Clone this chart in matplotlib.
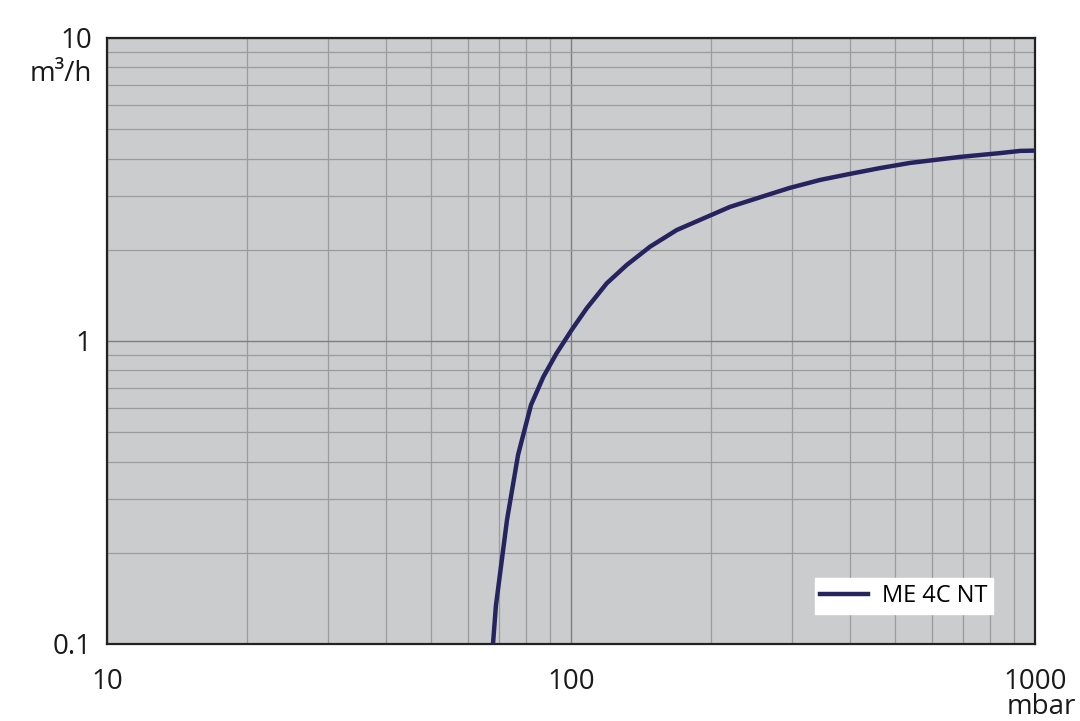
import numpy as np
import matplotlib.pyplot as plt
from matplotlib.ticker import LogLocator, NullFormatter

# --- DATA ---
pressure_mbar = [67.9, 68.9, 72.8, 76.9, 82.0, 87.2, 93.1, 100.3, 108.1, 119.4,
                 131.8, 148.0, 169.0, 189.7, 220.0, 255.5, 296.0, 344.0, 399.0,
                 463.0, 538.0, 689.0, 841.0, 929.0, 1000.0]
flow_m3h = [0.10, 0.134, 0.257, 0.421, 0.615, 0.762, 0.911, 1.087, 1.282, 1.55,
            1.781, 2.047, 2.324, 2.51, 2.77, 2.98, 3.20, 3.40, 3.56,
            3.72, 3.87, 4.05, 4.17, 4.24, 4.25]
series_name = "ME 4C NT"
x_ticks = [10, 100, 1000]
x_labels = ["10", "100", "1000"]
y_ticks = [0.1, 1, 10]
y_labels = ["0.1", "1", "10"]

plt.rcParams['font.family'] = ['Open Sans', 'DejaVu Sans']

# --- FIGURE ---
fig = plt.figure(figsize=(10.8, 7.21), dpi=100)
ax = fig.add_axes([0.0991, 0.1068, 0.9583 - 0.0991, 0.9473 - 0.1068])
ax.set_facecolor('#cbcccd')

ax.set_xscale('log')
ax.set_yscale('log')
ax.set_xlim(10, 1000)
ax.set_ylim(0.1, 10)

ax.plot(pressure_mbar, flow_m3h, color='#26245f', linewidth=3.2,
        solid_joinstyle='round', label=series_name, zorder=3)

# grid: darker decades, lighter sub-decades
ax.xaxis.set_minor_locator(LogLocator(base=10, subs=np.arange(2, 10)))
ax.yaxis.set_minor_locator(LogLocator(base=10, subs=np.arange(2, 10)))
ax.xaxis.set_minor_formatter(NullFormatter())
ax.yaxis.set_minor_formatter(NullFormatter())
ax.grid(True, which='major', color='#7d7e80', linewidth=1.0)
ax.grid(True, which='minor', color='#9a9b9d', linewidth=0.9)
ax.set_axisbelow(True)

ax.set_xticks(x_ticks)
ax.set_xticklabels(x_labels)
ax.set_yticks(y_ticks)
ax.set_yticklabels(y_labels)
ax.tick_params(which='both', length=0)
ax.tick_params(axis='x', pad=17, labelsize=20, labelcolor='#1a1a1a')
ax.tick_params(axis='y', pad=11, labelsize=20, labelcolor='#1a1a1a')

for side in ax.spines.values():
    side.set_color('#222222')
    side.set_linewidth(1.6)

# unit labels
ax.text(-0.0165, 0.94, "m³/h", transform=ax.transAxes, ha='right', va='center',
        fontsize=20, color='#1a1a1a')
ax.text(1.007, -0.115, "mbar", transform=ax.transAxes, ha='center', va='baseline',
        fontsize=20, color='#1a1a1a')

leg = ax.legend(loc='lower right', bbox_to_anchor=(0.955, 0.05), frameon=True,
                fancybox=False, fontsize=17, handlelength=2.0, handletextpad=0.6,
                borderpad=0.25, borderaxespad=0)
leg.get_frame().set_facecolor('white')
leg.get_frame().set_edgecolor('white')
leg.get_frame().set_alpha(1)

fig.savefig('out.png', dpi=100)
